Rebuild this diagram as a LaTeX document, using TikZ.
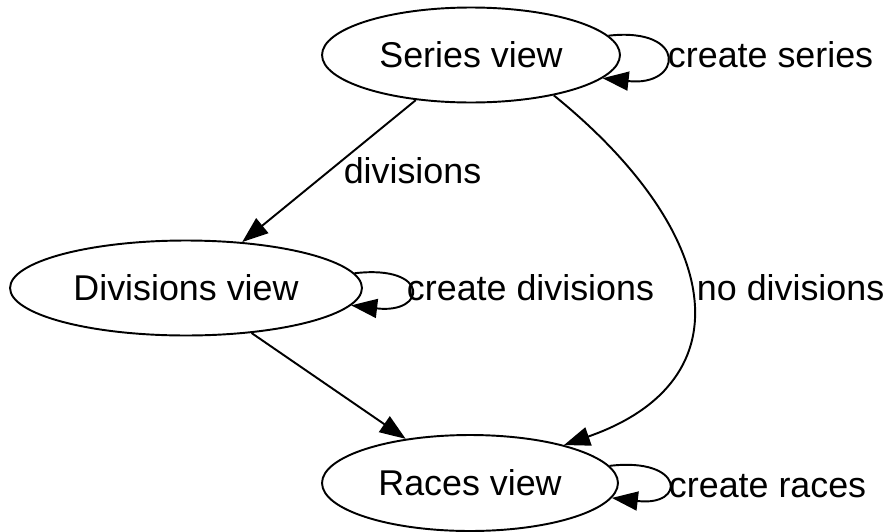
\documentclass[tikz,border=0pt]{standalone}
\usepackage{fontspec}
\setmainfont{Liberation Sans}
\usetikzlibrary{shapes.geometric,arrows.meta}
\begin{document}
\begin{tikzpicture}[x=0.02cm, y=-0.02cm, line width=1.1pt,
		font=\fontsize{20.4}{24}\selectfont,
		view/.style={draw, ellipse, inner sep=0pt, minimum height=1.9cm},
		lbl/.style={inner sep=0pt, anchor=west},
		go/.style={-{Triangle[length=0.52cm, width=0.38cm]}}]
	\useasboundingbox (0,0) rectangle (885,531);
	\node[view, minimum width=5.96cm] (series) at (471,55) {Series view};
	\node[view, minimum width=7.04cm] (divs) at (186,288) {Divisions view};
	\node[view, minimum width=5.92cm, minimum height=1.92cm] (races) at (470,483) {Races view};
	\draw [go] (series.8) .. controls +(80,-9) and +(80,9) .. (series.-10);
	\node[lbl] (crser) at (667,55) {create series};
	\draw [go] (divs.5.6) .. controls +(76,-9) and +(76,9) .. (divs.-6.6);
	\node[lbl] (crdiv) at (406,288) {create divisions};
	\draw [go] (races.7.2) .. controls +(75,-9) and +(75,9) .. (races.-6.8);
	\node[lbl] (crrac) at (668,486) {create races};
	\draw [go] (series) -- (divs) node[midway, right, xshift=4.5pt] (divlbl) {divisions};
	\draw [go] (series.-26) .. controls (720,230) and (750,380) .. (races.22);
	\node[lbl] (nodiv) at (696,288) {no divisions};
	\draw [go] (divs) -- (races);
\end{tikzpicture}
\end{document}
